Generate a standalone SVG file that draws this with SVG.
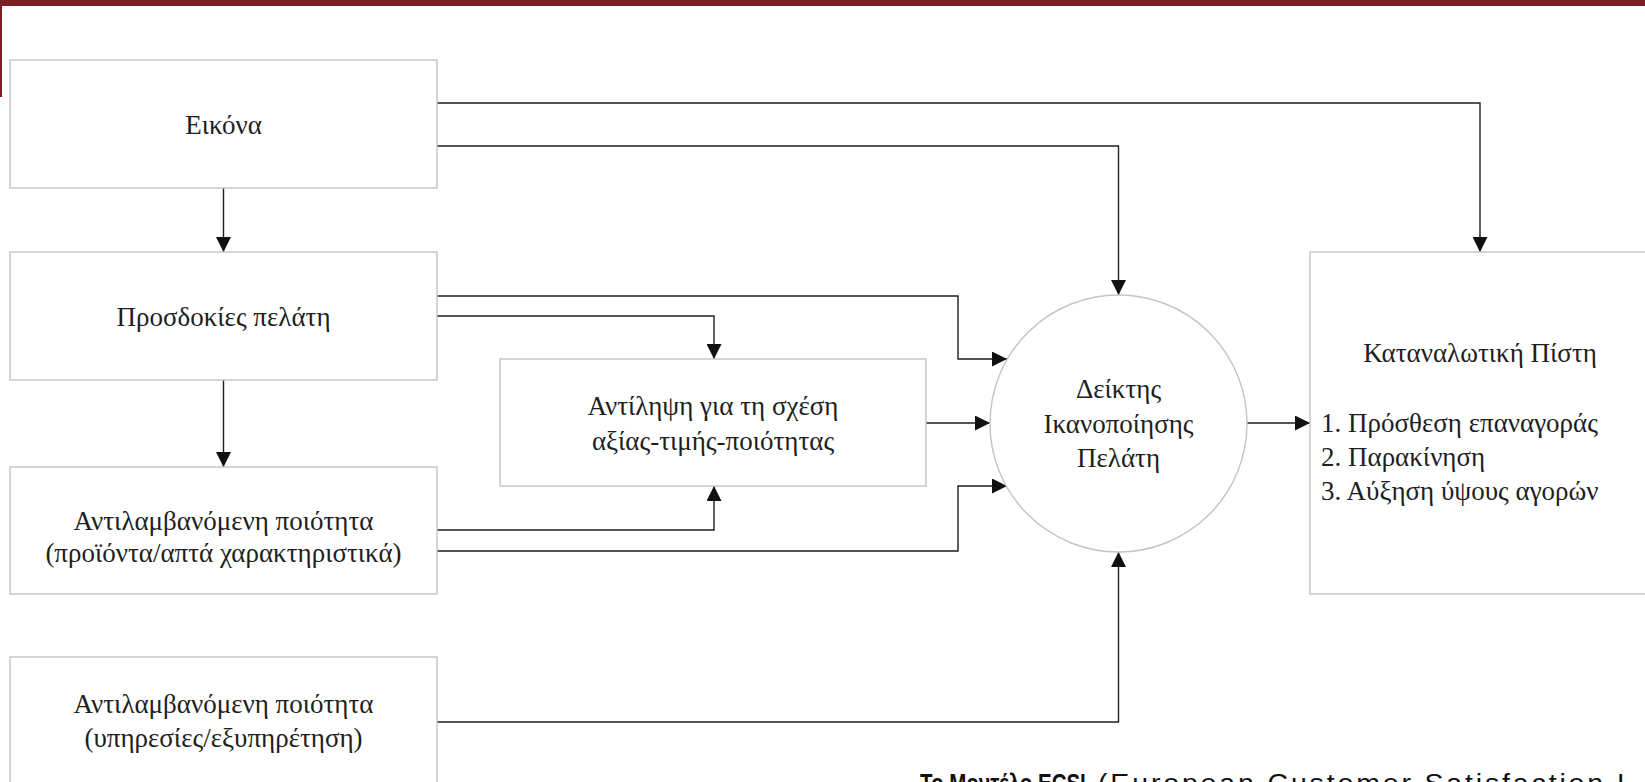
<svg xmlns="http://www.w3.org/2000/svg" width="1645" height="782" viewBox="0 0 1645 782">
  <style>
    .box { fill: #ffffff; stroke: #c4c4c4; stroke-width: 1.4; }
    .lbl { font-family: "Liberation Serif", "Times New Roman", serif; font-size: 27px; fill: #1e1e1e; text-anchor: middle; }
    .lst { font-family: "Liberation Serif", "Times New Roman", serif; font-size: 27px; fill: #1e1e1e; }
    .wire { fill: none; stroke: #1e1e1e; stroke-width: 1.4; marker-end: url(#head); }
    .cap { font-family: "Liberation Sans", Arial, sans-serif; font-size: 25px; fill: #111111; }
  </style>
  <defs>
    <marker id="head" viewBox="0 0 15 15" refX="15" refY="7.5" markerWidth="15" markerHeight="15" markerUnits="userSpaceOnUse" orient="auto">
      <path d="M0,0 L15,7.5 L0,15 Z" fill="#111111"/>
    </marker>
  </defs>

  <rect width="1645" height="782" fill="#ffffff"/>

  <!-- slide frame accents -->
  <rect x="0" y="0" width="1645" height="6" fill="#7a2025"/>
  <rect x="0" y="0" width="2" height="97" fill="#7a2025"/>

  <g id="connectors">
    <!-- Εικόνα -->
    <path class="wire" d="M437,103 H1480 V252"/>
    <path class="wire" d="M437,146 H1118.5 V295"/>
    <path class="wire" d="M223.5,188 V252"/>
    <!-- Προσδοκίες -->
    <path class="wire" d="M223.5,380 V467"/>
    <path class="wire" d="M437,296 H958 V359 H1007"/>
    <path class="wire" d="M437,316 H714 V359"/>
    <!-- Αντιλαμβανόμενη ποιότητα (προϊόντα) -->
    <path class="wire" d="M437,530 H714 V486"/>
    <path class="wire" d="M437,551 H958 V486 H1007"/>
    <!-- Αντίληψη → Δείκτης -->
    <path class="wire" d="M926,423 H990"/>
    <!-- υπηρεσίες → Δείκτης -->
    <path class="wire" d="M437,722 H1118.5 V552"/>
    <!-- Δείκτης → Πίστη -->
    <path class="wire" d="M1247,423 H1310"/>
  </g>

  <g id="image">
    <rect class="box" x="10" y="60" width="427" height="128"/>
    <text class="lbl" x="223.5" y="134">Εικόνα</text>
  </g>

  <g id="expectations">
    <rect class="box" x="10" y="252" width="427" height="128"/>
    <text class="lbl" x="223.5" y="326">Προσδοκίες πελάτη</text>
  </g>

  <g id="quality-products">
    <rect class="box" x="10" y="467" width="427" height="127"/>
    <text class="lbl" x="223.5" y="530">Αντιλαμβανόμενη ποιότητα</text>
    <text class="lbl" x="223.5" y="562">(προϊόντα/απτά χαρακτηριστικά)</text>
  </g>

  <g id="quality-services">
    <rect class="box" x="10" y="657" width="427" height="128"/>
    <text class="lbl" x="223.5" y="713">Αντιλαμβανόμενη ποιότητα</text>
    <text class="lbl" x="223.5" y="747">(υπηρεσίες/εξυπηρέτηση)</text>
  </g>

  <g id="value">
    <rect class="box" x="500" y="359" width="426" height="127"/>
    <text class="lbl" x="713" y="415">Αντίληψη για τη σχέση</text>
    <text class="lbl" x="713" y="450">αξίας-τιμής-ποιότητας</text>
  </g>

  <g id="satisfaction">
    <circle class="box" cx="1118.5" cy="423.5" r="128.5"/>
    <text class="lbl" x="1118.5" y="398">Δείκτης</text>
    <text class="lbl" x="1118.5" y="433">Ικανοποίησης</text>
    <text class="lbl" x="1118.5" y="467">Πελάτη</text>
  </g>

  <g id="loyalty">
    <rect class="box" x="1310" y="252" width="340" height="342"/>
    <text class="lbl" x="1480" y="362">Καταναλωτική Πίστη</text>
    <text class="lst" x="1321" y="432">1. Πρόσθεση επαναγοράς</text>
    <text class="lst" x="1321" y="466">2. Παρακίνηση</text>
    <text class="lst" x="1321" y="500">3. Αύξηση ύψους αγορών</text>
  </g>

  <!-- caption below the model, running past the bottom edge -->
  <g id="caption">
    <text class="cap" transform="translate(920,792) scale(0.82,1)" font-weight="bold">Το Μοντέλο ECSI</text>
    <text class="cap" transform="translate(1098,792) scale(1.14,1)" letter-spacing="2.5">(European Customer Satisfaction I</text>
  </g>
</svg>
